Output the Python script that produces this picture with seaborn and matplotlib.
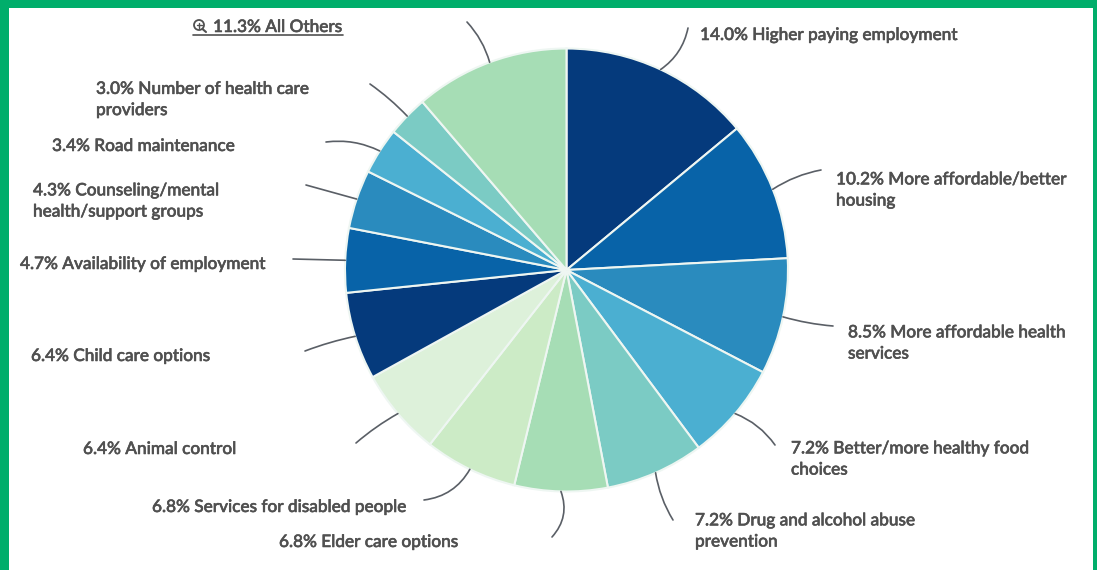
import numpy as np
import matplotlib
matplotlib.use("Agg")
import matplotlib.pyplot as plt
import matplotlib.patheffects as pe
from matplotlib.patches import Rectangle, Circle
import seaborn as sns

shares = [14.0, 10.2, 8.5, 7.2, 7.2, 6.8, 6.8, 6.4, 6.4, 4.7, 4.3, 3.4, 3.0, 11.3]
labels = [
    "14.0% Higher paying employment",
    "10.2% More affordable/better\nhousing",
    "8.5% More affordable health\nservices",
    "7.2% Better/more healthy food\nchoices",
    "7.2% Drug and alcohol abuse\nprevention",
    "6.8% Elder care options",
    "6.8% Services for disabled people",
    "6.4% Animal control",
    "6.4% Child care options",
    "4.7% Availability of employment",
    "4.3% Counseling/mental\nhealth/support groups",
    "3.4% Road maintenance",
    "3.0% Number of health care\nproviders",
    "11.3% All Others",
]
base_colors = ["#053A7C", "#0863A8", "#2A8BBE", "#4BAFD1",
               "#7BCBC4", "#A6DDB5", "#CCEBC6", "#DDF1DA"]

# label left edge / vertical centre, and where the leader line stops (pixels from top left)
label_pos = [(700, 35), (836, 190), (848, 343), (791, 459), (695, 531), (279, 542), (152, 507),
             (83, 449), (31, 356), (20, 264), (33, 201), (52, 146), (96, 99.5), (213, 27)]
leader_end = [(688, 28), (821, 170), (833, 326), (775, 445), (673, 520), (552, 537), (424, 500),
              (356, 443), (305, 351), (293, 259), (306, 185), (326, 142), (370, 84), (467, 22)]
leader_bend = [-0.2, 0.1, -0.05, 0.15, -0.1, 0.3, 0.25, -0.05, -0.04, 0, 0, -0.15, -0.05, -0.12]

W, H = 1097, 570
GREEN = "#00AE6B"
TEXT = "#505050"
cx, cy, radius = 566.5, 270, 221.5

sns.set_theme(style="white")
plt.rcParams["font.family"] = ["Lato", "DejaVu Sans"]
palette = sns.color_palette(base_colors, len(shares))


def up(y):
    return H - y


fig = plt.figure(figsize=(W / 100, H / 100), dpi=100, facecolor=GREEN)
ax = fig.add_axes([0, 0, 1, 1])
ax.set_axis_off()
ax.add_patch(Rectangle((9, 0), 1084, H - 8, fc="white", ec="none", zorder=0))

wedges, _ = ax.pie(shares, colors=palette, startangle=90, counterclock=False,
                   center=(cx, up(cy)), radius=radius, frame=True,
                   wedgeprops=dict(edgecolor="#EEF6F2", linewidth=1.5))
ax.set_xlim(0, W)
ax.set_ylim(0, H)

# the reference text is a bit heavier than Lato regular
heavier = [pe.withStroke(linewidth=0.4, foreground=TEXT)]

for w, lab, pos, end, bend in zip(wedges, labels, label_pos, leader_end, leader_bend):
    ang = np.deg2rad((w.theta1 + w.theta2) / 2)
    edge = (cx + radius * np.cos(ang), up(cy) + radius * np.sin(ang))
    ax.annotate("", xy=edge, xytext=(end[0], up(end[1])),
                arrowprops=dict(arrowstyle="-", color="#5A5F66", lw=1.2,
                                shrinkA=0, shrinkB=0,
                                connectionstyle=f"arc3,rad={bend}"))
    ax.text(pos[0], up(pos[1]), lab, color=TEXT, fontsize=12.4, fontweight="medium",
            ha="left", va="center", linespacing=1.4, path_effects=heavier)

# underline and magnifier on the drill-down label
ax.plot([193, 343], [up(35), up(35)], color=TEXT, lw=1.2)
ax.add_patch(Circle((199, up(25)), 5, fc="none", ec=TEXT, lw=1.3))
ax.plot([196.5, 201.5], [up(25), up(25)], color=TEXT, lw=1)
ax.plot([199, 199], [up(22.5), up(27.5)], color=TEXT, lw=1)
ax.plot([202.5, 206], [up(29), up(32)], color=TEXT, lw=1.5)

fig.savefig("out.png", dpi=100, facecolor=GREEN)
